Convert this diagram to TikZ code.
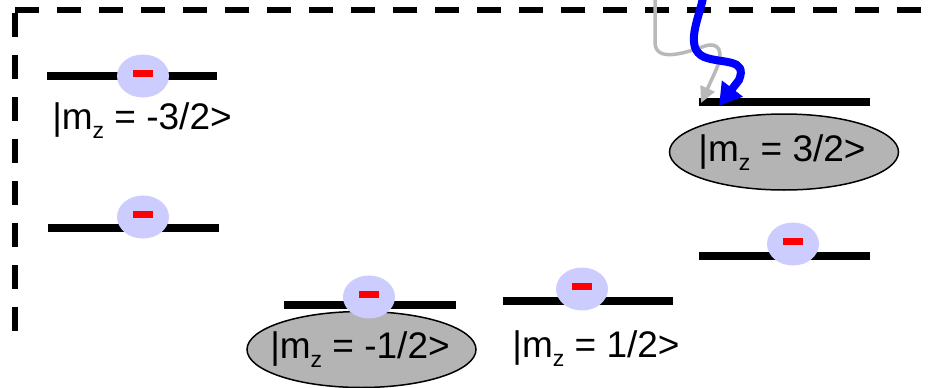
\documentclass[tikz,border=0pt]{standalone}
\usepackage{fontspec}
\setmainfont{Liberation Sans}
\usetikzlibrary{shapes.geometric,arrows.meta}
\definecolor{lav}{RGB}{204,204,255}
\definecolor{stategray}{RGB}{180,180,180}
\definecolor{photonblue}{RGB}{0,0,255}
\definecolor{photongray}{RGB}{185,185,185}
\newcommand{\mzlabel}[1]{|m\raisebox{-9pt}{\fontsize{23}{23}\selectfont z} = #1>}
\tikzset{
  frame/.style={line width=5.5pt, dash pattern=on 24pt off 18pt},
  level/.style={line width=7.5pt},
  electron/.style={ellipse, fill=lav, draw=none, minimum width=52pt, minimum height=43pt, inner sep=0pt},
  minusbar/.style={rectangle, fill=red, draw=none, minimum width=20pt, minimum height=7pt, inner sep=0pt},
  statebox/.style={ellipse, fill=stategray, draw=black, line width=1.5pt, minimum width=229pt, minimum height=76pt, inner sep=0pt},
  lbl/.style={anchor=base, inner sep=0pt, font=\fontsize{37}{40}\selectfont},
}
\begin{document}
\begin{tikzpicture}[x=1pt,y=-1pt]
\useasboundingbox (0,0) rectangle (929,388);
% frame
\draw[frame] (15,10) -- (940,10);
\draw[frame] (15,13) -- (15,331);
% state ellipses
\node[statebox] (s1) at (361.5,349.5) {};
\node[statebox] (s2) at (784,152) {};
% levels
\draw[level] (47,76) -- (217,76);
\draw[level] (48,228) -- (219,228);
\draw[level] (284,305) -- (456,305);
\draw[level] (503,301) -- (673,301);
\draw[level] (699,102) -- (870,102);
\draw[level] (699,256) -- (870,256);
% electrons
\foreach \n/\x/\y in {e1/143/76, e2/143/217, e3/369/297, e4/582/289, e5/793/244}{
  \node[electron] (\n) at (\x,\y) {};
  \node[minusbar] (\n m) at (\x,\y-3) {};
}
% labels
\node[lbl] (l1) at (142,129) {\mzlabel{-3/2}};
\node[lbl] (l2) at (360,358) {\mzlabel{-1/2}};
\node[lbl] (l3) at (596,357) {\mzlabel{1/2}};
\node[lbl] (l4) at (782,161) {\mzlabel{3/2}};
% photons
\coordinate (g0) at (655,-2);
\coordinate (g1) at (701,103);
\coordinate (b0) at (703,-2);
\coordinate (b1) at (719,106);
\draw[photongray, line width=3.5pt, -{Triangle[length=16pt,width=15pt]}]
  (g0) -- (655,42) .. controls (655,62) and (682,54) .. (702,47)
  .. controls (720,40) and (724,52) .. (716,70) -- (g1);
\draw[photonblue, line width=8pt, -{Triangle[length=22pt,width=25pt]}]
  (b0) .. controls (699,18) and (684,48) .. (704,57)
  .. controls (722,64) and (748,58) .. (739,80) -- (b1);
\end{tikzpicture}
\end{document}
